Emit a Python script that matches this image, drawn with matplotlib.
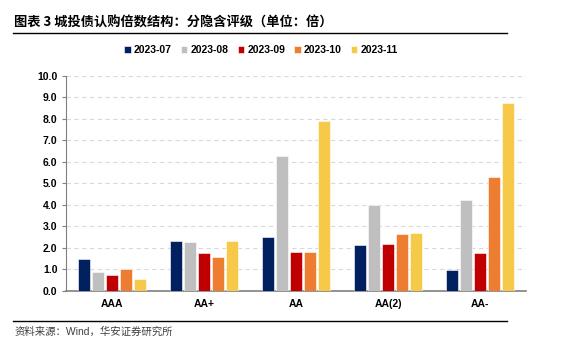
import numpy as np
import matplotlib
matplotlib.use('Agg')
from matplotlib import pyplot as plt

plt.rcParams['font.family'] = ['Liberation Sans', 'Noto Sans CJK SC', 'DejaVu Sans']

cats = ['AAA', 'AA+', 'AA', 'AA(2)', 'AA-']
series = ['2023-07', '2023-08', '2023-09', '2023-10', '2023-11']
v07 = [1.47, 2.31, 2.48, 2.13, 0.95]
v08 = [0.85, 2.26, 6.25, 3.99, 4.22]
v09 = [0.75, 1.74, 1.80, 2.17, 1.74]
v10 = [1.02, 1.57, 1.80, 2.64, 5.27]
v11 = [0.54, 2.30, 7.88, 2.67, 8.74]
vals = [v07, v08, v09, v10, v11]
colors = ['#002060', '#BFBFBF', '#C00000', '#ED7D31', '#F7C948']

fig = plt.figure(figsize=(5.65, 3.44), dpi=100)
ax = fig.add_axes([0.1163, 0.155, 0.815, 0.625])

x = np.arange(len(cats))
pitch = 0.152
for i, (s, v) in enumerate(zip(series, vals)):
    ax.bar(x + (i - 2) * pitch, v, width=0.135, color=colors[i], label=s,
           edgecolor='white', linewidth=0.4, zorder=3)

ax.set_xlim(-0.5, 4.5)
ax.set_ylim(0, 10)
ax.set_yticks(np.arange(0, 10.1, 1))
ax.set_yticklabels([f'{t:.1f}' for t in np.arange(0, 10.1, 1)])
ax.set_xticks(x)
ax.set_xticklabels(cats)
for lab in ax.get_xticklabels() + ax.get_yticklabels():
    lab.set_fontweight('bold')
    lab.set_fontsize(7.5)
ax.tick_params(axis='y', length=3, color='#808080', pad=3)
ax.tick_params(axis='x', length=0, pad=6)
ax.grid(axis='y', color='#D9D9D9', linestyle=(0, (4, 3)), linewidth=0.8, zorder=0)
for sp in ['top', 'right']:
    ax.spines[sp].set_visible(False)
ax.spines['left'].set_color('#808080')
ax.spines['bottom'].set_color('#808080')
ax.spines['bottom'].set_linewidth(1.2)

fig.legend(loc='center', bbox_to_anchor=(0.462, 0.855), ncol=5, frameon=False,
           handlelength=0.6, handleheight=0.6, handletextpad=0.3, columnspacing=0.9,
           prop={'weight': 'bold', 'size': 7.5})

fig.text(0.025, 0.935, '图表 3 城投债认购倍数结构：分隐含评级（单位：倍）',
         fontsize=9.5, fontweight='heavy', family=['Noto Sans CJK SC', 'DejaVu Sans'], va='center')
fig.add_artist(plt.Line2D([0.023, 0.898], [0.905, 0.905], color='black', linewidth=1.0))
fig.add_artist(plt.Line2D([0.023, 0.898], [0.067, 0.067], color='black', linewidth=1.0))
fig.text(0.025, 0.035, '资料来源：Wind，华安证券研究所', fontsize=7.5, color='#404040',
         family=['Liberation Sans', 'Noto Sans CJK SC'], va='center')

fig.savefig('out.png', dpi=100)
